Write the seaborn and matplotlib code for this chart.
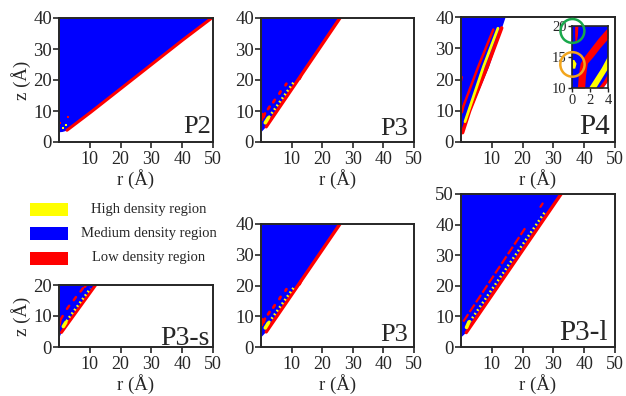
import numpy as np
import pandas as pd
import seaborn as sns
import matplotlib.pyplot as plt
from matplotlib.patches import Rectangle, Ellipse

BLUE = '#0000ff'
RED = '#ff0000'
YELLOW = '#ffff00'

# ---- P2 (z 0-40)
p2_edge_r = [0, 1, 2, 3, 10, 20, 30, 40, 49]
p2_edge_z = [3.3, 3.4, 3.7, 4.2, 9.6, 17.4, 25.2, 33.0, 40]
p2_red_r = [2.6, 10.3, 20.3, 30.3, 40.3, 49.6]
p2_red_z = [3.8, 9.6, 17.4, 25.2, 33.0, 40]
p2_rspot_r = [0.4, 2.9]
p2_rspot_z = [6.0, 8.0]
p2_yspot_r = [2.4, 1.2]
p2_yspot_z = [5.5, 4.6]

# ---- P3 (same profile in both P3 panels)
p3_edge_r = [0, 1.5, 25.5]
p3_edge_z = [3.4, 5.0, 40]
p3_red_r = [1.7, 25.8]
p3_red_z = [4.9, 40]
p3_yel_r = [2.6, 10.6]
p3_yel_z = [8.0, 19.2]
p3_blob_r = [1.4, 2.4]
p3_blob_z = [6.2, 7.8]
p3_dash_r = [[0.3, 0.5], [0.8, 1.3], [2.3, 2.8], [4.0, 4.5], [6.0, 6.4], [8.0, 8.3], [12.6, 13.1]]
p3_dash_z = [[7.2, 9.0], [8.0, 9.2], [10.6, 11.4], [12.8, 13.6], [15.6, 16.3], [18.3, 18.8], [20.4, 21.5]]

# ---- P4
p4_edge_r = [0, 0.4, 3.0, 8.9, 14.3]
p4_edge_z = [2.8, 3.2, 10.2, 24.1, 40]
p4_red_r = [0.5, 2.8, 8.5, 13.2]
p4_red_z = [3.0, 10.0, 24.1, 36.5]
p4_yel_r = [1.3, 7.3, 12.0]
p4_yel_z = [6.5, 24.1, 36.4]
p4_line_r = [0.3, 0.75, 5.6, 10.5]
p4_line_z = [9.5, 11.4, 24.1, 36.0]
p4_tick_r = [0.0, 0.25]
p4_tick_z = [19.5, 20.8]

# P4 inset (r 0-4, z 10-20)
ins_red_z = [10, 12, 14, 15, 16.5, 18, 19.5]
ins_red_lo = [0.6, 0.7, 0.9, 1.3, 2.1, 2.9, 3.8]
ins_red_hi = [1.4, 1.5, 1.7, 2.3, 3.1, 4.0, 4.0]
ins_top_z = [17.3, 18.5, 20]
ins_top_lo = [0.35, 0.3, 0.3]
ins_top_hi = [0.45, 0.6, 0.65]
ins_yel_z = [10, 13.3, 15.3]
ins_yel_lo = [1.8, 3.25, 4.0]
ins_yel_hi = [2.6, 4.0, 4.0]
ins_red2_z = [10, 11.2, 12.4]
ins_red2_lo = [2.9, 3.5, 4.0]
ins_red2_hi = [3.4, 4.0, 4.0]
ins_white_z = [10, 11.2]
ins_white_lo = [3.4, 4.0]
ins_white_hi = [4.0, 4.0]
ins_spot_z = [13.2, 14.0, 14.6]
ins_spot_lo = [0, 0, 0]
ins_spot_hi = [0.3, 0.45, 0.2]

# ---- P3-s (z 0-20)
ps_edge_r = [0, 0.7, 11.7]
ps_edge_z = [3.3, 4.9, 20]
ps_red_r = [0.8, 11.9]
ps_red_z = [4.7, 20]
ps_yel_r = [2.4, 10.2]
ps_yel_z = [8.3, 18.9]
ps_blob_r = [1.4, 2.2]
ps_blob_z = [6.6, 7.9]
ps_dash_r = [[0.2, 0.5], [0.6, 1.2], [2.6, 3.3], [4.8, 5.5], [7.0, 7.8], [8.4, 8.8]]
ps_dash_z = [[7.2, 9.0], [9.0, 10.0], [12.3, 13.3], [15.1, 16.1], [17.9, 19.0], [19.4, 20]]

# ---- P3-l (z 0-50)
pl_edge_r = [0, 1.5, 32.3]
pl_edge_z = [3.4, 4.8, 50]
pl_red_r = [1.7, 32.5]
pl_red_z = [4.7, 50]
pl_yel_r = [2.8, 27.5]
pl_yel_z = [8.2, 44.5]
pl_blob_r = [1.8, 2.6]
pl_blob_z = [6.4, 8.2]
pl_line_r = [0.75, 20.8]
pl_line_z = [8.3, 38.8]
pl_dash_r = [[25.8, 26.5]]
pl_dash_z = [[45.8, 46.9]]

legend_labels = ['High density region', 'Medium density region', 'Low density region']
legend_colors = [YELLOW, BLUE, RED]

sns.set_style('ticks')
plt.rcParams['font.family'] = ['Liberation Serif', 'DejaVu Serif']
plt.rcParams['axes.linewidth'] = 1.4

W, H = 626, 396
fig = plt.figure(figsize=(W / 100, H / 100), dpi=100)


def px_axes(l, t, r, b):
    return fig.add_axes([l / W, 1 - b / H, (r - l) / W, (b - t) / H])


def line(ax, r, z, color, lw, ls='-'):
    sns.lineplot(x=r, y=z, ax=ax, color=color, lw=lw, linestyle=ls,
                 sort=False, estimator=None, legend=False)


def segs(ax, rr, zz, color, lw):
    df = pd.DataFrame({'r': [v for s in rr for v in s],
                       'z': [v for s in zz for v in s],
                       'seg': [i for i, s in enumerate(rr) for _ in s]})
    sns.lineplot(data=df, x='r', y='z', units='seg', estimator=None, sort=False,
                 color=color, lw=lw, ax=ax, legend=False)


def frame(ax, zmax, label, lx, ly, lsize, ylab=False):
    ax.set_xlim(0, 50)
    ax.set_ylim(0, zmax)
    ax.set_xticks([10, 20, 30, 40, 50])
    ax.set_yticks(np.arange(0, zmax + 1, 10))
    ax.tick_params(axis='x', labelsize=13, length=4, width=1.2, pad=2.5)
    ax.tick_params(axis='y', labelsize=13.5, length=4, width=1.2, pad=1)
    ax.set_xlabel('r (Å)', fontsize=13.5, labelpad=1)
    if ylab:
        ax.set_ylabel('z (Å)', fontsize=13.5, labelpad=2)
    else:
        ax.set_ylabel('')
    ax.text(lx, ly, label, transform=ax.transAxes, ha='right', va='baseline',
            fontsize=lsize)


def p3_panel(ax):
    ax.fill_betweenx(p3_edge_z, 0, p3_edge_r, color=BLUE, lw=0)
    line(ax, p3_red_r, p3_red_z, RED, 2.4)
    segs(ax, p3_dash_r, p3_dash_z, RED, 2.0)
    line(ax, p3_yel_r, p3_yel_z, YELLOW, 1.8, (0, (0.7, 1.1)))
    line(ax, p3_blob_r, p3_blob_z, YELLOW, 2.6)


# P2
ax = px_axes(59, 18, 213, 142)
ax.fill_betweenx(p2_edge_z, 0, p2_edge_r, color=BLUE, lw=0)
line(ax, p2_red_r, p2_red_z, RED, 2.2)
sns.scatterplot(x=p2_rspot_r, y=p2_rspot_z, ax=ax, color=RED, s=2.5, marker='s', linewidth=0)
sns.scatterplot(x=p2_yspot_r, y=p2_yspot_z, ax=ax, color=YELLOW, s=2.5, marker='s', linewidth=0)
frame(ax, 40, 'P2', 0.99, 0.07, 19, ylab=True)

# P3 top
ax = px_axes(261, 18, 414, 142)
p3_panel(ax)
frame(ax, 40, 'P3', 0.96, 0.056, 19)

# P4
ax = px_axes(461, 17, 615, 142)
ax.fill_betweenx(p4_edge_z, 0, p4_edge_r, color=BLUE, lw=0)
line(ax, p4_red_r, p4_red_z, RED, 2.6)
line(ax, p4_line_r, p4_line_z, RED, 1.8)
line(ax, p4_yel_r, p4_yel_z, YELLOW, 2.0)
line(ax, p4_tick_r, p4_tick_z, RED, 1.6)
frame(ax, 40, 'P4', 0.97, 0.06, 21)

ins = px_axes(572, 26, 608, 88)
ins.set_facecolor(BLUE)
ins.fill_betweenx(ins_red_z, ins_red_lo, ins_red_hi, color=RED, lw=0)
ins.fill_betweenx(ins_top_z, ins_top_lo, ins_top_hi, color=RED, lw=0)
ins.fill_betweenx(ins_yel_z, ins_yel_lo, ins_yel_hi, color=YELLOW, lw=0)
ins.fill_betweenx(ins_red2_z, ins_red2_lo, ins_red2_hi, color=RED, lw=0)
ins.fill_betweenx(ins_white_z, ins_white_lo, ins_white_hi, color='white', lw=0)
ins.fill_betweenx(ins_spot_z, ins_spot_lo, ins_spot_hi, color=YELLOW, lw=0)
ins.set_xlim(0, 4)
ins.set_ylim(10, 20)
ins.set_xticks([0, 2, 4])
ins.set_yticks([10, 15, 20])
for s in ins.spines.values():
    s.set_linewidth(1.2)
ins.tick_params(labelsize=10.5, length=3, width=1, pad=1)
ins.add_patch(Ellipse((0.05, 19.2), 2.65, 3.85, fill=False, ec='#19a84b', lw=1.8,
                      clip_on=False, zorder=5))
ins.add_patch(Ellipse((0.05, 13.8), 2.7, 3.95, fill=False, ec='#f2a51c', lw=1.8,
                      clip_on=False, zorder=5))

# P3-s
ax = px_axes(59, 285, 213, 347)
ax.fill_betweenx(ps_edge_z, 0, ps_edge_r, color=BLUE, lw=0)
line(ax, ps_red_r, ps_red_z, RED, 2.2)
segs(ax, ps_dash_r, ps_dash_z, RED, 1.8)
line(ax, ps_yel_r, ps_yel_z, YELLOW, 1.8, (0, (0.7, 1.1)))
line(ax, ps_blob_r, ps_blob_z, YELLOW, 2.6)
frame(ax, 20, 'P3-s', 0.975, 0.03, 20, ylab=True)

# P3 bottom
ax = px_axes(261, 224, 414, 347)
p3_panel(ax)
frame(ax, 40, 'P3', 0.96, 0.045, 19)

# P3-l
ax = px_axes(461, 194, 615, 347)
ax.fill_betweenx(pl_edge_z, 0, pl_edge_r, color=BLUE, lw=0)
line(ax, pl_red_r, pl_red_z, RED, 2.4)
line(ax, pl_line_r, pl_line_z, RED, 1.6, (0, (4, 1.2)))
segs(ax, pl_dash_r, pl_dash_z, RED, 1.6)
line(ax, pl_yel_r, pl_yel_z, YELLOW, 1.8, (0, (0.7, 1.1)))
line(ax, pl_blob_r, pl_blob_z, YELLOW, 2.6)
frame(ax, 50, 'P3-l', 0.955, 0.046, 21)

# legend
for i, (lab, col) in enumerate(zip(legend_labels, legend_colors)):
    yc = 209 + 24.5 * i
    fig.add_artist(Rectangle((30 / W, 1 - (yc + 6.5) / H), 38 / W, 13 / H,
                             transform=fig.transFigure, color=col, lw=0))
    fig.text(149 / W, 1 - yc / H, lab, ha='center', va='center', fontsize=10.5)

fig.savefig('out.png', dpi=100, facecolor='white')
